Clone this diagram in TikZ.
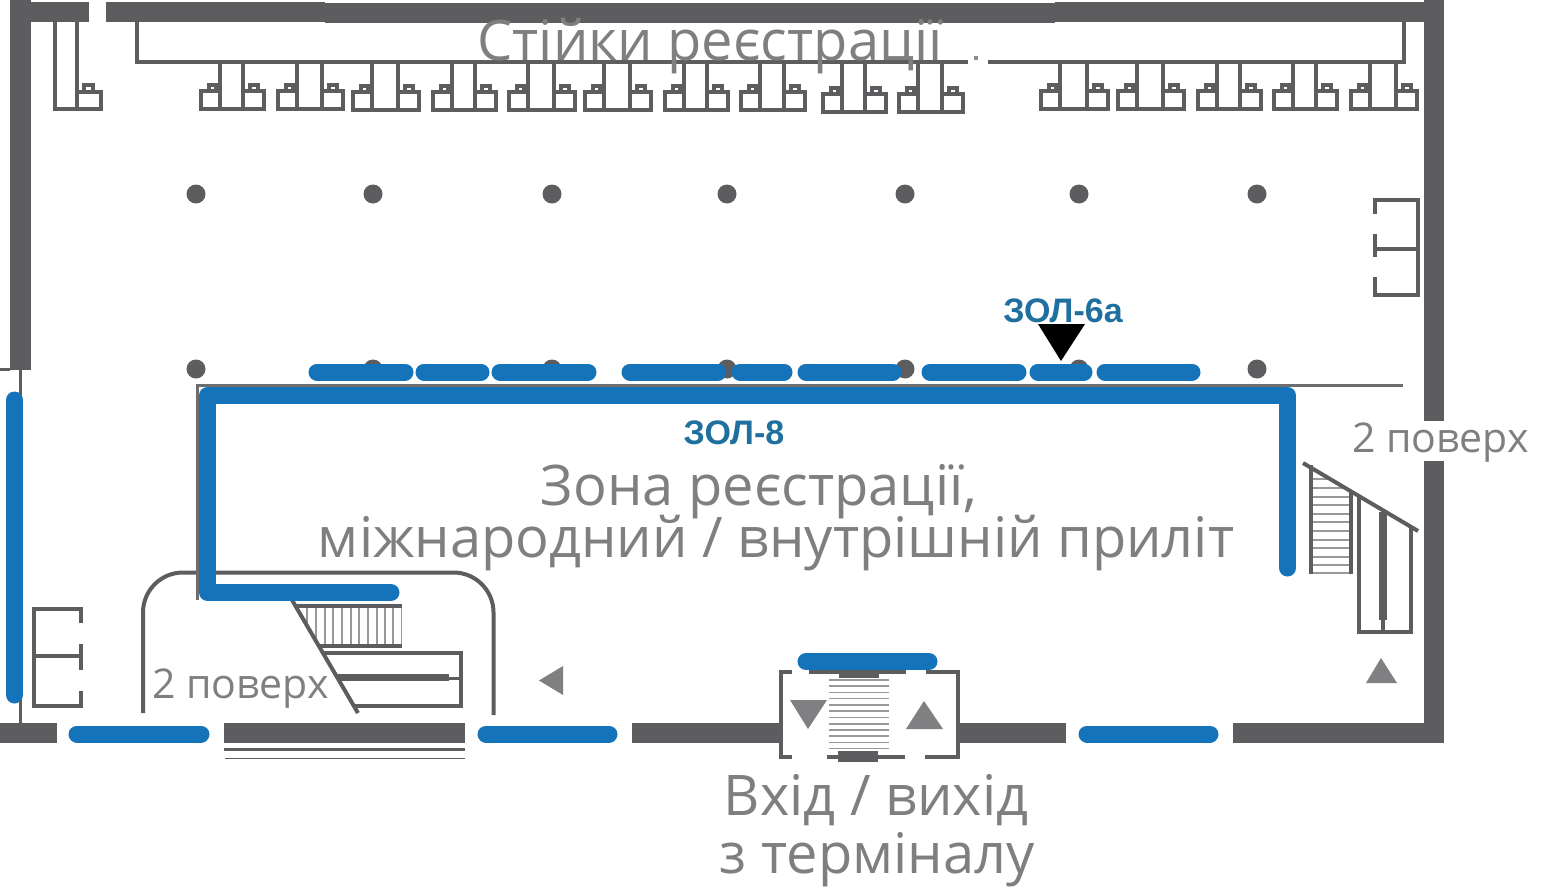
\documentclass[tikz,border=0pt]{standalone}
\usepackage{fontspec}
\setmainfont{Open Sans}
\newfontfamily\zonefont{Liberation Sans}
\definecolor{wallgray}{HTML}{5D5D60}
\definecolor{textgray}{HTML}{7F7F7F}
\definecolor{arrowgray}{HTML}{808083}
\definecolor{routeblue}{HTML}{1573B9}
\definecolor{zoneblue}{HTML}{20709F}

\tikzset{
  wall/.style={fill=wallgray, draw=none},
  plan/.style={draw=wallgray, line width=4pt},
  hatch/.style={draw=gray!80, line width=1.5pt},
  route/.style={draw=routeblue, line width=17pt, line cap=round, line join=round},
  bigtext/.style={text=textgray, anchor=base, inner sep=0pt, font=\fontsize{56}{64}\selectfont},
  floortext/.style={text=textgray, anchor=base west, inner sep=0pt, font=\fontsize{41}{47}\selectfont},
  zonetext/.style={text=zoneblue, anchor=base, inner sep=0pt, font=\zonefont\bfseries\fontsize{34}{39}\selectfont},
}

% one check-in desk: left box, tall stand, right box
\newcommand{\deskunit}[3]{
  \draw[plan] (#1+21,62) -- (#1+21,#3) -- (#2-23,#3) -- (#2-23,62);
  \draw[plan] (#1+21,#3) -- (#1+2,#3) -- (#1+2,#3-18) -- (#1+21,#3-18);
  \draw[plan] (#1+10,#3-18) rectangle (#1+17,#3-24);
  \draw[plan] (#2-23,#3) -- (#2-2,#3) -- (#2-2,#3-18) -- (#2-23,#3-18);
  \draw[plan] (#2-16,#3-18) rectangle (#2-8,#3-24);
}

\begin{document}
\begin{tikzpicture}[x=1pt, y=-1pt]
  \useasboundingbox (0,0) rectangle (1547,891);

  % outer walls
  \fill[wall] (10,0) rectangle (31,370);
  \fill[wall] (10,2) rectangle (89,22);
  \fill[wall] (106,2) rectangle (325,22);
  \fill[wall] (325,3.5) rectangle (1055,23.5);
  \fill[wall] (1055,2) rectangle (1426,22);
  \fill[wall] (1424,0) rectangle (1444,421);
  \fill[wall] (1424,461) rectangle (1444,743);
  \fill[wall] (0,723) rectangle (57,743);
  \fill[wall] (224,723) rectangle (465,743);
  \fill[wall] (632,723) rectangle (780,743);
  \fill[wall] (958,723) rectangle (1066,743);
  \fill[wall] (1233,723) rectangle (1444,743);
  \draw[wallgray, line width=3pt] (224,749.5) -- (465,749.5);
  \draw[wallgray, line width=1pt] (225,758) -- (465,758);
  \draw[wallgray, line width=3pt] (0,369) -- (10,369);
  \draw[wallgray, line width=3pt] (20,370) -- (20,723);

  % check-in counters
  \draw[plan] (137,22) -- (137,62.5) -- (968,62.5);
  \draw[plan] (988,62.5) -- (1404,62.5) -- (1404,22);
  \fill[wallgray!70] (974,56) rectangle (978,60);
  \draw[plan] (54.5,22) -- (54.5,108.5) -- (100.5,108.5) -- (100.5,91.5) -- (77,91.5);
  \draw[plan] (77,22) -- (77,108.5);
  \draw[plan] (84,91.5) rectangle (93,85);
  \foreach \a/\b/\c in {199/266/108.5, 276/345/108.5, 351/421/110, 431/498/110, 507/577/110,
      583/653/110, 663/730/110, 739/807/110, 821/888/112, 897/965/112,
      1039/1110/108.5, 1116/1186/108.5, 1196/1263/108.5, 1272/1339/108.5, 1349/1419/108.5}
    \deskunit{\a}{\b}{\c};

  % columns
  \foreach \x in {196,373,552,727,905,1079,1257} {
    \fill[wallgray] (\x,194) circle (9.5);
    \fill[wallgray] (\x,369) circle (9.5);
  }

  % cabinet on the right
  \draw[plan] (1374.5,214) -- (1374.5,199.5) -- (1417.5,199.5) -- (1417.5,295) -- (1374.5,295) -- (1374.5,277);
  \draw[plan] (1374.5,234) -- (1374.5,257);
  \draw[plan] (1374.5,249) -- (1417.5,249);

  % cabinet on the left
  \draw[plan] (81,623) -- (81,609) -- (34,609) -- (34,705.5) -- (81,705.5) -- (81,691);
  \draw[plan] (81,644) -- (81,670);
  \draw[plan] (34,655.5) -- (81,655.5);

  % lower left room and stairs
  \draw[plan, rounded corners=40pt] (143,713) -- (143,572.5) -- (493.5,572.5) -- (493.5,715);
  \begin{scope}
    \clip (295,606) -- (402,606) -- (402,646) -- (319,646) -- cycle;
    \foreach \x in {298,307,316,325,333,342,351,359,368,377,385,393,402}
      \draw[hatch] (\x,606) -- (\x,646);
  \end{scope}
  \draw[wallgray, line width=4pt] (297,606) -- (402,606);
  \draw[wallgray, line width=4pt] (320,646) -- (402,646);
  \draw[wallgray, line width=4pt] (292,600) -- (358,713);
  \draw[plan] (323,652.5) -- (460.5,652.5) -- (460.5,706) -- (355,706);
  \draw[wallgray, line width=7pt] (338,677) -- (449,677);
  \draw[wallgray, line width=3pt] (449,678) -- (460,678);

  % stairs on the right
  \begin{scope}
    \clip (1303,463) -- (1418,531) -- (1351,575) -- (1311,575) -- cycle;
    \foreach \y in {479,488,497,505,514,522,531,540,548,557,565,573}
      \draw[hatch] (1311,\y) -- (1351,\y);
  \end{scope}
  \draw[wallgray, line width=4pt] (1311,465) -- (1311,574);
  \draw[wallgray, line width=4pt] (1351,490) -- (1351,574);
  \draw[wallgray, line width=4pt] (1303,463) -- (1418,531);
  \draw[plan] (1358.5,497) -- (1358.5,632) -- (1411,632) -- (1411,528);
  \draw[wallgray, line width=8pt] (1383,512) -- (1383,620);
  \draw[wallgray, line width=4pt] (1383,620) -- (1383,632);

  % entrance
  \draw[plan] (792,672) -- (781,672) -- (781,757) -- (792,757);
  \draw[plan] (926,672) -- (958,672) -- (958,757) -- (925,757);
  \draw[plan] (809,672) -- (906,672);
  \draw[plan] (827,757) -- (905,757);
  \foreach \y in {680,686,692.5,698.5,705,711,717.5,724,730,736,742.5,748.5}
    \draw[hatch] (829,\y) -- (889,\y);
  \draw[wallgray, line width=4pt] (839,675.5) -- (879,675.5);
  \draw[wallgray, line width=4pt] (838,753) -- (878,753);
  \draw[wallgray, line width=4pt] (838,760) -- (878,760);
  \fill[arrowgray] (790,700) -- (827,700) -- (808,729) -- cycle;
  \fill[arrowgray] (906,729) -- (943,729) -- (924,701) -- cycle;
  \fill[arrowgray] (563,666) -- (563,695) -- (539,680.5) -- cycle;
  \fill[arrowgray] (1366,683) -- (1397,683) -- (1381,658) -- cycle;

  % barrier line under the row
  \draw[wallgray!90, line width=3pt] (1403,385) -- (197.5,385) -- (197.5,600);

  % routes
  \draw[route] (1287.5,568) -- (1287.5,395.5) -- (207.5,395.5) -- (207.5,592.5) -- (391,592.5);
  \draw[route] (14.5,400) -- (14.5,695);
  \foreach \a/\b in {317/405, 424/481, 500/588, 630/718, 740/784, 806/893, 930/1018, 1038/1084, 1105/1192}
    \draw[route] (\a,372) -- (\b,372);
  \foreach \a/\b in {77/201, 486/609, 1087/1210}
    \draw[route] (\a,734) -- (\b,734);
  \draw[route] (806,661.5) -- (929,661.5);
  \fill[black] (1038,324) -- (1085,324) -- (1061,361) -- cycle;

  % labels
  \node[bigtext] (title) at (710,60) {Стійки реєстрації};
  \node[bigtext] (zonea) at (759,505) {Зона реєстрації,};
  \node[bigtext] (zoneb) at (776,557) {міжнародний / внутрішній приліт};
  \node[bigtext] (exita) at (876,815) {Вхід / вихід};
  \node[bigtext] (exitb) at (877,873) {з терміналу};
  \node[floortext] (floorl) at (152,698) {2 поверх};
  \node[floortext] (floorr) at (1352,452) {2 поверх};
  \node[zonetext] (zol8) at (734,444) {ЗОЛ-8};
  \node[zonetext] (zol6) at (1063,322) {ЗОЛ-6а};
\end{tikzpicture}
\end{document}
